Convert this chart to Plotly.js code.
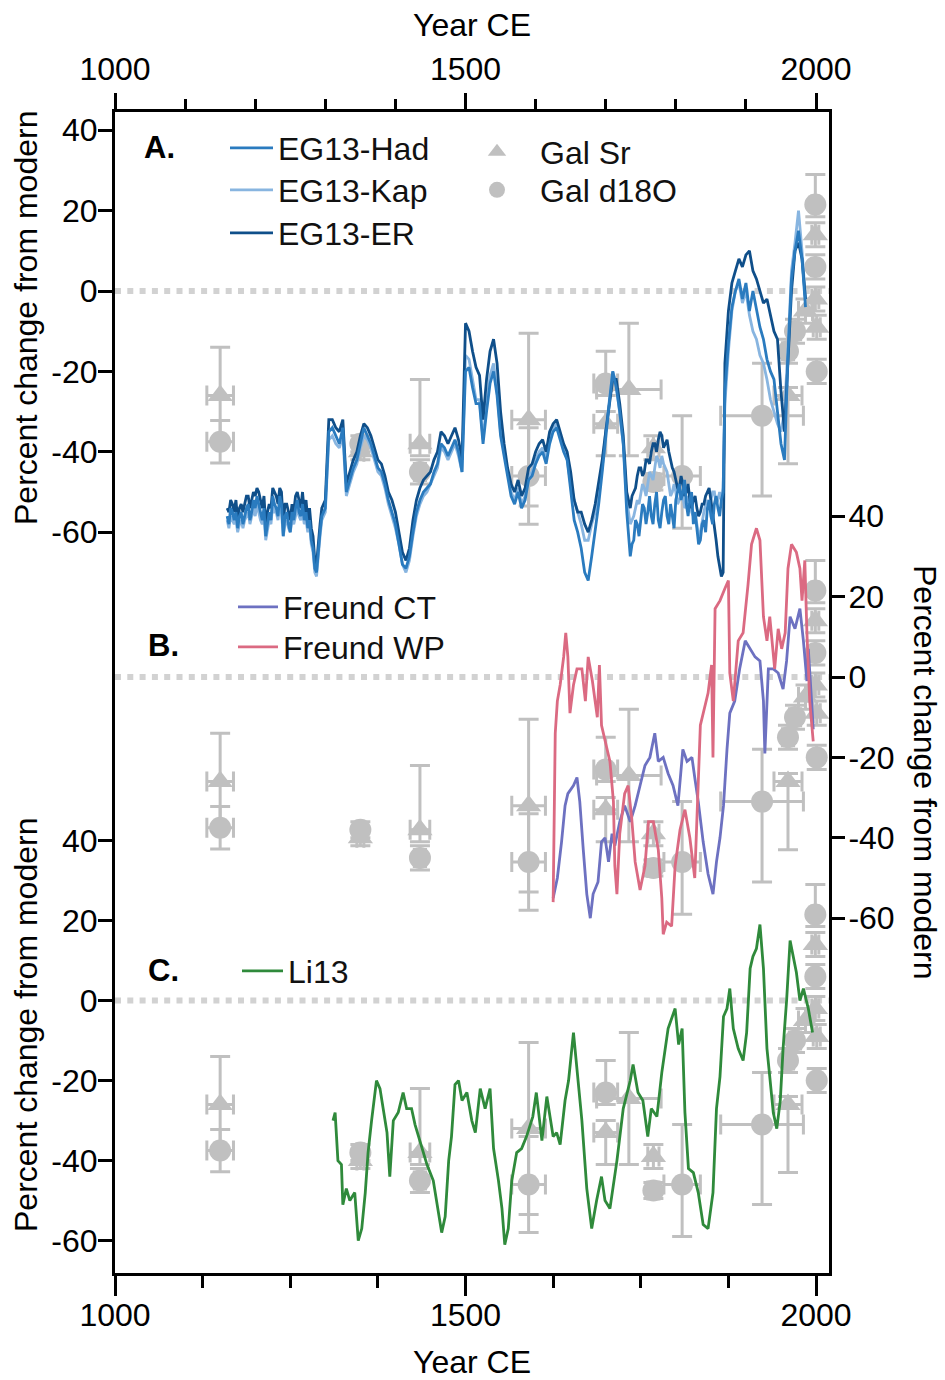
<!DOCTYPE html>
<html>
<head>
<meta charset="utf-8">
<script src="https://cdn.plot.ly/plotly-3.0.1.min.js"></script>
<style>html,body{margin:0;padding:0;background:#fff;}#chart{width:945px;height:1380px;}</style>
</head>
<body>
<div id="chart"></div>
<script>
// ---------- DATA ----------
// EG13 reconstructions (panel A), read in four stretches
const eg13YearsA = [1160,1162.5,1165,1167.5,1170,1172.5,1175,1177.5,1180,1182.5,1185,1187.5,1190,1192.5,1195,1197.5,1200,1202.5,1205,1207.5,1210,1212.5,1215,1217.5,1220,1222.5,1225,1227.5,1230,1232.5,1235,1237.5,1240,1242.5,1245,1247.5,1250,1252.5,1255,1257.5,1260,1262.5,1265,1267.5,1270,1272.5,1275,1277.5,1280,1282.5,1285,1287.5,1290,1292.5,1295,1297.5,1300];
const eg13YearsB = [1305,1310,1315,1320,1325,1330,1335,1340,1345,1350,1355,1360,1365,1370,1375,1380,1385,1390,1395,1400,1405,1410,1415,1420,1425,1430,1435,1440,1445,1450,1455,1460,1465,1470,1475,1480,1485,1490,1495,1500,1505,1510,1515,1520,1525,1530,1535,1540,1545,1550,1555,1560,1565,1570,1575,1580,1585,1590,1595,1600,1605,1610,1615,1620,1625,1630,1635,1640,1645,1650,1655,1660,1665,1670,1675,1680,1685,1690,1695,1700,1705,1710,1715,1720,1725,1730,1735];
const eg13YearsC = [1737.5,1740,1742.5,1745,1747.5,1750,1752.5,1755,1757.5,1760,1762.5,1765,1767.5,1770,1772.5,1775,1777.5,1780,1782.5,1785,1787.5,1790,1792.5,1795,1797.5,1800,1802.5,1805,1807.5,1810,1812.5,1815,1817.5,1820,1822.5,1825,1827.5,1830,1832.5,1835,1837.5,1840,1842.5,1845,1847.5,1850,1852.5,1855,1857.5,1860,1862.5,1865,1867.5];
const eg13YearsD = [1870,1875,1880,1885,1890,1895,1900,1905,1910,1915,1920,1925,1930,1935,1940,1945,1950,1955,1960,1965,1970,1975,1980,1985];

const hadA = [-56,-58,-54,-55,-57,-55,-59,-56,-55,-58,-56,-54,-53,-57,-55,-52,-54,-51,-53,-55,-57,-54,-61,-58,-55,-57,-51,-53,-54,-56,-51,-53,-61,-56,-55,-58,-60,-55,-57,-54,-52,-55,-56,-53,-57,-55,-59,-57,-62,-64,-69,-70,-64,-60,-56,-55,-54];
const hadB = [-35,-34,-36,-38,-34,-50,-47,-44,-42,-38,-34,-36,-38,-41,-44,-45,-48,-52,-55,-58,-63,-68,-69,-66,-60,-55,-52,-50,-49,-48,-45,-43,-38,-39,-41,-39,-37,-40,-45,-20,-19,-24,-28,-28,-38,-30,-23,-20,-26,-36,-41,-47,-51,-53,-50,-54,-52,-47,-46,-43,-41,-40,-43,-38,-35,-34,-37,-40,-42,-50,-57,-60,-64,-70,-72,-66,-60,-53,-45,-36,-28,-20,-24,-30,-38,-55,-66];
const hadC = [-63,-62,-57,-58,-61,-57,-53,-54,-58,-55,-51,-56,-58,-53,-50,-57,-59,-55,-52,-51,-56,-58,-53,-56,-59,-52,-50,-48,-52,-50,-47,-53,-56,-52,-50,-58,-55,-60,-63,-62,-58,-57,-60,-54,-52,-56,-58,-53,-51,-54,-56,-52,-50];
const hadD = [-25,-13,-4,0,3,-2,2,-5,0,-5,-9,-12,-17,-20,-22,-30,-38,-42,-16,3,10,15,8,-4];

const kapA = [-57,-59,-56,-57,-58,-57,-60,-58,-57,-59,-57,-56,-55,-58,-56,-54,-56,-53,-55,-57,-58,-56,-62,-59,-57,-58,-53,-55,-55,-57,-53,-55,-61,-58,-57,-59,-60,-57,-58,-56,-54,-56,-57,-55,-58,-57,-60,-58,-63,-65,-70,-71,-65,-61,-57,-56,-55];
const kapB = [-37,-36,-38,-39,-36,-51,-48,-45,-43,-39,-36,-37,-39,-42,-45,-46,-49,-53,-56,-59,-63,-68,-70,-67,-61,-56,-53,-51,-50,-48,-46,-44,-39,-40,-42,-40,-38,-41,-45,-16,-17,-22,-27,-27,-37,-28,-21,-18,-25,-35,-40,-46,-50,-52,-49,-53,-51,-46,-45,-42,-40,-39,-42,-37,-34,-33,-36,-39,-42,-48,-52,-55,-58,-62,-62,-58,-55,-50,-44,-35,-27,-20,-23,-30,-38,-52,-58];
const kapC = [-57,-56,-54,-52,-53,-50,-48,-49,-51,-48,-45,-46,-47,-44,-41,-42,-44,-41,-43,-44,-45,-48,-51,-50,-48,-50,-53,-52,-50,-51,-54,-53,-51,-52,-55,-56,-55,-58,-61,-60,-57,-55,-53,-52,-54,-52,-50,-50,-53,-52,-50,-52,-49];
const kapD = [-28,-15,-5,0,2,-3,0,-6,-10,-12,-16,-18,-22,-27,-30,-33,-35,-30,-14,5,12,20,10,-2];

const erA = [-54,-55,-52,-53,-55,-52,-57,-54,-53,-55,-53,-51,-51,-54,-52,-50,-51,-49,-50,-52,-54,-51,-58,-55,-53,-54,-49,-50,-51,-53,-49,-50,-58,-53,-53,-55,-57,-53,-55,-51,-50,-52,-54,-50,-55,-52,-57,-54,-59,-61,-67,-68,-62,-58,-54,-53,-52];
const erB = [-32,-32,-34,-35,-32,-48,-45,-42,-40,-36,-33,-34,-36,-39,-42,-43,-46,-50,-52,-55,-60,-65,-67,-64,-57,-52,-49,-47,-46,-45,-42,-40,-35,-36,-38,-36,-34,-37,-42,-8,-10,-15,-19,-21,-32,-22,-15,-12,-18,-30,-38,-44,-48,-50,-47,-51,-49,-44,-43,-40,-38,-37,-40,-35,-33,-32,-35,-38,-40,-45,-52,-55,-55,-58,-60,-57,-53,-48,-42,-35,-28,-22,-22,-28,-36,-50,-54];
const erC = [-51,-50,-49,-46,-44,-44,-46,-45,-42,-42,-43,-40,-38,-38,-40,-37,-35,-36,-39,-38,-37,-40,-42,-44,-45,-47,-49,-49,-46,-48,-51,-50,-48,-52,-54,-52,-51,-54,-56,-55,-53,-53,-51,-50,-49,-52,-55,-58,-62,-66,-69,-71,-70];
const erD = [-18,-5,2,5,8,6,9,10,5,3,0,-3,-2,-6,-10,-12,-25,-35,-18,0,10,12,8,-2];

// Freund (panel B)
const freundCTYears = [1625,1631,1637,1642,1646,1654,1659,1663,1668,1673,1678,1682,1689,1694,1699,1704,1709,1713,1720,1727,1735,1742,1749,1756,1763,1770,1775,1782,1789,1796,1803,1810,1816,1823,1827,1832,1839,1846,1853,1858,1863,1868,1873,1877,1884,1891,1899,1906,1913,1920,1925,1927,1932,1939,1946,1953,1958,1963,1970,1977,1982,1987,1989,1994,1996];
const freundCT = [-55,-50,-41,-32,-29,-27,-25,-31,-43,-54,-60,-54,-51,-41,-40,-46,-39,-42,-36,-32,-36,-32,-27,-22,-20,-14,-21,-20,-24,-27,-32,-18,-21,-20,-25,-31,-41,-49,-54,-46,-40,-32,-18,-9,-6,2,9,7,5,4,-6,-19,2,2,1,-3,4,15,12,17,9,-1,7,-7,-13];
const freundWPYears = [1625,1628,1631,1635,1640,1643,1646,1649,1654,1659,1666,1671,1675,1681,1688,1691,1694,1701,1706,1711,1713,1716,1720,1727,1732,1737,1742,1749,1756,1761,1768,1775,1780,1782,1787,1794,1799,1806,1813,1820,1827,1835,1839,1846,1851,1853,1856,1863,1870,1875,1877,1882,1889,1896,1903,1908,1915,1920,1925,1930,1934,1941,1946,1951,1956,1960,1965,1972,1977,1980,1984,1987,1991,1996];
const freundWP = [-56,-14,-6,-2,5,11,5,-9,-2,2,2,-6,5,-1,-10,3,-12,-17,-21,-31,-47,-54,-39,-29,-27,-35,-46,-53,-47,-36,-36,-43,-55,-64,-61,-62,-47,-38,-33,-40,-50,-12,-9,-4,3,-20,17,19,22,24,1,-6,9,11,23,33,37,34,15,9,15,2,12,7,11,27,33,31,27,19,29,11,-6,-16];

// Li13 (panel C)
const li13Years = [1311,1314,1318,1323,1325,1330,1335,1342,1347,1352,1357,1361,1366,1373,1378,1383,1388,1392,1397,1404,1411,1416,1423,1428,1435,1445,1454,1461,1466,1471,1476,1480,1485,1490,1495,1502,1509,1514,1521,1528,1535,1540,1547,1552,1556,1561,1566,1573,1580,1587,1596,1601,1609,1616,1625,1630,1635,1642,1647,1654,1659,1666,1673,1680,1687,1694,1699,1706,1716,1725,1735,1739,1746,1753,1760,1765,1773,1780,1789,1799,1804,1809,1813,1818,1825,1832,1839,1846,1853,1858,1863,1868,1873,1877,1882,1889,1896,1901,1906,1910,1915,1920,1925,1930,1934,1939,1944,1949,1953,1958,1963,1968,1972,1977,1982,1989,1995];
const li13 = [-30,-28,-40,-41,-51,-47,-50,-48,-60,-57,-48,-38,-30,-20,-22,-28,-33,-44,-30,-28,-23,-27,-27,-31,-35,-41,-45,-52,-58,-54,-40,-34,-21,-20,-25,-23,-30,-33,-22,-27,-22,-37,-45,-52,-61,-57,-45,-38,-37,-34,-29,-23,-35,-24,-34,-33,-36,-25,-20,-8,-17,-30,-47,-57,-50,-44,-50,-52,-40,-27,-20,-16,-23,-25,-34,-27,-29,-18,-7,-2,-11,-7,-28,-42,-43,-48,-56,-57,-48,-27,-19,-4,-2,3,-7,-12,-15,-8,8,11,13,19,8,-12,-19,-28,-32,-25,-12,0,15,11,7,0,3,-2,-8];

// Gal proxies (drawn in every panel)
const galSrYears = [1150,1350,1435,1590,1700,1733,1768,1960,1985,1999,1999,2001];
const galSr = [-26,-40,-38,-32,-33,-24.5,-39,-26,-5,14,-2,-9];
const galSrErrUp = [12,2,16,21.5,3,16.5,3,2,3,3,3,3];
const galSrErrDown = [12,2,3,21.5,8,16.5,3,17,3,3,3,3];
const galSrErrX = [19,5,14,24,17,46,8,20,10,5,5,5];

const galOYears = [1150,1350,1435,1590,1700,1768,1809,1923,1960,1970,1999,1999,2001];
const galO = [-37.5,-38,-45,-46,-23,-47.5,-46,-31,-15,-10,21.5,6,-20];
const galOErrUp = [5.3,2,3,12,8,2,15,13,3,3,7.5,3,3];
const galOErrDown = [5.3,2,3,12,3,2,13,20,3,3,3,3,3];
const galOErrX = [19,5,8,24,17,8,26,59,8,8,5,5,5];

const yTickVals = [-60,-40,-20,0,20,40];
const yTickText = ['-60','-40','-20','0','20','40'];
const xTickVals = [1000,1500,2000];
const xTickText = ['1000','1500','2000'];

const eg13Years = eg13YearsA.concat(eg13YearsB, eg13YearsC, eg13YearsD);
const eg13Had = hadA.concat(hadB, hadC, hadD);
const eg13Kap = kapA.concat(kapB, kapC, kapD);
const eg13ER = erA.concat(erB, erC, erD);

// ---------- STYLE ----------
const FONT = 'Liberation Sans, Arial, Helvetica, sans-serif';
const GRAY = '#c0c0c0';
const C = {had:'#2a7bbf', kap:'#88b5e0', er:'#0f4f8a', ct:'#6d71c1', wp:'#db6a82', li:'#2f8a3b'};

const traces = [];
const panels = [['y',true],['y2',false],['y3',false]];
panels.forEach(p => {
  traces.push({x:galSrYears, y:galSr, yaxis:p[0], xaxis:'x', type:'scatter', mode:'markers', name:'Gal Sr',
    legend:'legend4', showlegend:p[1],
    marker:{symbol:'triangle-up', size:22, color:GRAY},
    error_y:{type:'data', symmetric:false, array:galSrErrUp, arrayminus:galSrErrDown, color:GRAY, thickness:3, width:10},
    error_x:{type:'data', array:galSrErrX, color:GRAY, thickness:3, width:10}, cliponaxis:false, hoverinfo:'skip'});
  traces.push({x:galOYears, y:galO, yaxis:p[0], xaxis:'x', type:'scatter', mode:'markers', name:'Gal d18O',
    legend:'legend5', showlegend:p[1],
    marker:{symbol:'circle', size:22, color:GRAY},
    error_y:{type:'data', symmetric:false, array:galOErrUp, arrayminus:galOErrDown, color:GRAY, thickness:3, width:10},
    error_x:{type:'data', array:galOErrX, color:GRAY, thickness:3, width:10}, cliponaxis:false, hoverinfo:'skip'});
});

function line(x, y, xa, ya, name, color, leg) {
  return {x:x, y:y, yaxis:ya, xaxis:xa, type:'scatter', mode:'lines', name:name, legend:leg,
    line:{color:color, width:2.8}, hoverinfo:'skip'};
}
traces.push(line(eg13Years, eg13Kap, 'x2', 'y', 'EG13-Kap', C.kap, 'legend2'));
traces.push(line(eg13Years, eg13ER, 'x2', 'y', 'EG13-ER', C.er, 'legend3'));
traces.push(line(eg13Years, eg13Had, 'x2', 'y', 'EG13-Had', C.had, 'legend'));
traces.push(line(freundCTYears, freundCT, 'x', 'y2', 'Freund CT', C.ct, 'legend6'));
traces.push(line(freundWPYears, freundWP, 'x', 'y2', 'Freund WP', C.wp, 'legend7'));
traces.push(line(li13Years, li13, 'x', 'y3', 'Li13', C.li, 'legend8'));

// ---------- LAYOUT ----------
const L = 115, R = 829, T = 112, B = 1273;
const px = v => (v - L) / (R - L);
const py = v => 1 - (v - T) / (B - T);

function leg(xLeft, yMid, iw) {
  return {x:px(xLeft), y:py(yMid), xanchor:'left', yanchor:'middle', xref:'paper', yref:'paper',
    bgcolor:'rgba(0,0,0,0)', borderwidth:0, itemwidth:iw, font:{family:FONT, size:32, color:'#111'},
    itemclick:false, itemdoubleclick:false};
}

const xCommon = {range:[1000, 2018.5], tickmode:'array', tickvals:xTickVals, ticktext:xTickText,
  ticks:'outside', tickwidth:3, tickcolor:'black', showline:true, linewidth:3, linecolor:'black',
  showgrid:false, zeroline:false, tickfont:{family:FONT, size:32, color:'black'}, fixedrange:true};
const yCommon = {tickmode:'array', tickvals:yTickVals, ticktext:yTickText, ticks:'outside', ticklen:14,
  tickwidth:3, tickcolor:'black', showline:true, linewidth:3, linecolor:'black', showgrid:false,
  zeroline:false, tickfont:{family:FONT, size:32, color:'black'}, fixedrange:true, ticklabelstandoff:-6};

const layout = {
  width:945, height:1380, margin:{l:L, r:945-R, t:T, b:1380-B, pad:0},
  paper_bgcolor:'white', plot_bgcolor:'white',
  font:{family:FONT, size:32, color:'black'},
  showlegend:true,
  xaxis:Object.assign({}, xCommon, {side:'bottom', anchor:'y', ticklen:20, ticklabelstandoff:-8,
    minor:{tickmode:'linear', tick0:1000, dtick:125, ticks:'outside', ticklen:12, tickwidth:3, tickcolor:'black'},
    title:{text:'Year CE', font:{family:FONT, size:32, color:'black'}, standoff:19}}),
  xaxis2:Object.assign({}, xCommon, {side:'top', overlaying:'x', anchor:'y', ticklen:16,
    minor:{tickmode:'linear', tick0:1000, dtick:100, ticks:'outside', ticklen:10, tickwidth:3, tickcolor:'black'},
    title:{text:'Year CE', font:{family:FONT, size:32, color:'black'}, standoff:6}}),
  yaxis:Object.assign({}, yCommon, {range:[-244.28, 44.53], side:'left', anchor:'x'}),
  yaxis2:Object.assign({}, yCommon, {range:[-148.26, 140.55], side:'right', overlaying:'y', anchor:'x', ticklen:13, ticklabelstandoff:-3}),
  yaxis3:Object.assign({}, yCommon, {range:[-68.1, 222.1], side:'left', overlaying:'y', anchor:'x'}),
  legend:leg(225, 148, 43),
  legend2:leg(225, 190, 43),
  legend3:leg(225, 233, 43),
  legend4:leg(454, 152, 76),
  legend5:leg(454, 190, 76),
  legend6:leg(233, 607, 40),
  legend7:leg(233, 647, 40),
  legend8:leg(237, 971, 41),
  shapes:['y','y2','y3'].map(ax => ({type:'line', xref:'paper', x0:0, x1:1, yref:ax, y0:0, y1:0, layer:'below',
    line:{color:'#d2d2d2', width:6, dash:'6px,6.3px'}})),
  annotations:[
    {text:'<b>A.</b>', x:px(142), y:py(147), xref:'paper', yref:'paper', xanchor:'left', yanchor:'middle', showarrow:false, font:{family:FONT, size:31, color:'black'}},
    {text:'<b>B.</b>', x:px(146), y:py(645), xref:'paper', yref:'paper', xanchor:'left', yanchor:'middle', showarrow:false, font:{family:FONT, size:31, color:'black'}},
    {text:'<b>C.</b>', x:px(146), y:py(970), xref:'paper', yref:'paper', xanchor:'left', yanchor:'middle', showarrow:false, font:{family:FONT, size:31, color:'black'}},
    {text:'Percent change from modern', x:px(26), y:py(318), xref:'paper', yref:'paper', xanchor:'center', yanchor:'middle', textangle:-90, showarrow:false, font:{family:FONT, size:32, color:'black'}},
    {text:'Percent change from modern', x:px(26), y:py(1025), xref:'paper', yref:'paper', xanchor:'center', yanchor:'middle', textangle:-90, showarrow:false, font:{family:FONT, size:32, color:'black'}},
    {text:'Percent change from modern', x:px(925), y:py(772), xref:'paper', yref:'paper', xanchor:'center', yanchor:'middle', textangle:90, showarrow:false, font:{family:FONT, size:32, color:'black'}}
  ]
};

Plotly.newPlot('chart', traces, layout, {displayModeBar:false, staticPlot:true});
</script>
</body>
</html>
